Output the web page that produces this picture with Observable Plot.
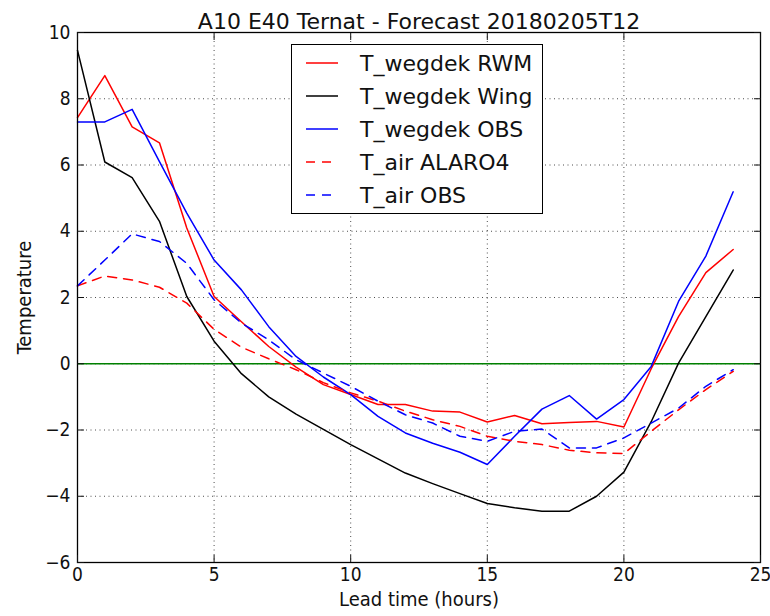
<!DOCTYPE html>
<html>
<head>
<meta charset="utf-8">
<script src="https://cdn.jsdelivr.net/npm/d3@7"></script>
<script src="https://cdn.jsdelivr.net/npm/@observablehq/plot@0.6"></script>
<style>
  body { margin: 0; background: white; }
  #wrap { position: relative; width: 770px; height: 616px; }
  #legend { position: absolute; left: 291px; top: 44px; width: 252px; height: 170px;
    border: 1.5px solid #000; background: white; box-sizing: border-box;
    font-family: "DejaVu Sans", sans-serif; font-size: 22px; color: #111; }
  .row { position: absolute; left: 0; height: 30px; display: flex; align-items: center; white-space: nowrap; }
  .row svg { margin-left: 14px; margin-right: 22px; }
</style>
</head>
<body>
<div id="wrap"><div id="legend"></div></div>
<script>
const hours = d3.range(0, 25);
const wegdekRWM  = [7.43, 8.7, 7.15, 6.67, 4.1, 2.03, 1.27, 0.52, -0.1, -0.63, -0.93, -1.23, -1.23, -1.43, -1.46, -1.76, -1.56, -1.81, -1.77, -1.74, -1.91, -0.15, 1.42, 2.75, 3.45];
const wegdekWing = [9.46, 6.09, 5.62, 4.3, 2.03, 0.68, -0.3, -1.0, -1.52, -1.98, -2.44, -2.87, -3.3, -3.62, -3.92, -4.22, -4.35, -4.45, -4.45, -4.0, -3.27, -1.75, 0.02, 1.42, 2.83];
const wegdekOBS  = [7.3, 7.3, 7.68, 6.1, 4.55, 3.13, 2.23, 1.12, 0.22, -0.4, -0.93, -1.59, -2.09, -2.4, -2.67, -3.04, -2.19, -1.37, -0.96, -1.67, -1.08, -0.08, 1.88, 3.25, 5.19];
const airALARO4  = [2.35, 2.65, 2.53, 2.31, 1.83, 1.04, 0.5, 0.15, -0.18, -0.57, -0.88, -1.13, -1.43, -1.69, -1.89, -2.19, -2.34, -2.44, -2.61, -2.69, -2.71, -2.04, -1.39, -0.78, -0.23];
const airOBS     = [2.35, 3.13, 3.92, 3.69, 3.03, 1.93, 1.23, 0.72, 0.12, -0.28, -0.68, -1.13, -1.54, -1.79, -2.19, -2.34, -2.04, -1.97, -2.54, -2.54, -2.24, -1.79, -1.34, -0.68, -0.18];
const seriesNames = ["T_wegdek RWM", "T_wegdek Wing", "T_wegdek OBS", "T_air ALARO4", "T_air OBS"];
const seriesColors = ["#ff0000", "#000000", "#0000ff", "#ff0000", "#0000ff"];
const seriesDash = [null, null, null, "9,7", "9,7"];
const seriesValues = [wegdekRWM, wegdekWing, wegdekOBS, airALARO4, airOBS];
const xTicks = [0, 5, 10, 15, 20, 25];
const yTicks = [-6, -4, -2, 0, 2, 4, 6, 8, 10];
const titleText = "A10 E40 Ternat - Forecast 20180205T12";

const rows = seriesValues.map((vals, i) => hours.map((h, j) => ({hour: h, value: vals[j], series: seriesNames[i]})));
const fmt = d3.format("d");
const tickFont = "'DejaVu Sans Condensed', 'DejaVu Sans', sans-serif";

const chart = Plot.plot({
  width: 770, height: 616,
  marginLeft: 77, marginRight: 10, marginTop: 32, marginBottom: 54,
  x: {domain: [0, 25]},
  y: {domain: [-6, 10]},
  style: {fontFamily: "DejaVu Sans, sans-serif", background: "white", color: "#111"},
  marks: [
    Plot.gridX(xTicks.slice(1, -1), {stroke: "#000", strokeOpacity: 0.7, strokeDasharray: "1,3.5", strokeWidth: 1}),
    Plot.gridY(yTicks.slice(1, -1), {stroke: "#000", strokeOpacity: 0.7, strokeDasharray: "1,3.5", strokeWidth: 1}),
    Plot.ruleY([0], {stroke: "#008000", strokeWidth: 1.5}),
    ...rows.map((r, i) => Plot.line(r, {x: "hour", y: "value", stroke: seriesColors[i], strokeWidth: 1.5, strokeDasharray: seriesDash[i]})),
    Plot.frame({stroke: "#000", strokeWidth: 1.3}),
    Plot.axisX(xTicks, {anchor: "bottom", tickSize: -7, text: null, label: null}),
    Plot.axisX(xTicks, {anchor: "top", tickSize: -7, text: null, label: null}),
    Plot.axisY(yTicks, {anchor: "left", tickSize: -7, text: null, label: null}),
    Plot.axisY(yTicks, {anchor: "right", tickSize: -7, text: null, label: null}),
    Plot.axisX(xTicks, {anchor: "bottom", tickSize: 0, tickPadding: 5, fontSize: 19, fontFamily: tickFont, label: null, tickFormat: fmt}),
    Plot.axisY(yTicks, {anchor: "left", tickSize: 0, tickPadding: 7, fontSize: 19, fontFamily: tickFont, label: null, tickFormat: fmt}),
    Plot.text([titleText], {frameAnchor: "top", dy: -19, fontSize: 22}),
    Plot.text(["Lead time (hours)"], {frameAnchor: "bottom", dy: 43, fontSize: 20, fontFamily: tickFont}),
    Plot.text(["Temperature"], {frameAnchor: "left", textAnchor: "middle", dx: -53, rotate: -90, fontSize: 20, fontFamily: tickFont})
  ]
});
document.getElementById("wrap").prepend(chart);

const legend = document.getElementById("legend");
seriesNames.forEach((name, i) => {
  const row = document.createElement("div");
  row.className = "row";
  row.style.top = (3 + i * 33) + "px";
  row.innerHTML = `<svg width="32" height="4"><line x1="0" y1="2" x2="32" y2="2" stroke="${seriesColors[i]}" stroke-width="1.5" ${seriesDash[i] ? `stroke-dasharray="${seriesDash[i]}"` : ""}/></svg><span>${name}</span>`;
  legend.appendChild(row);
});
</script>
</body>
</html>
